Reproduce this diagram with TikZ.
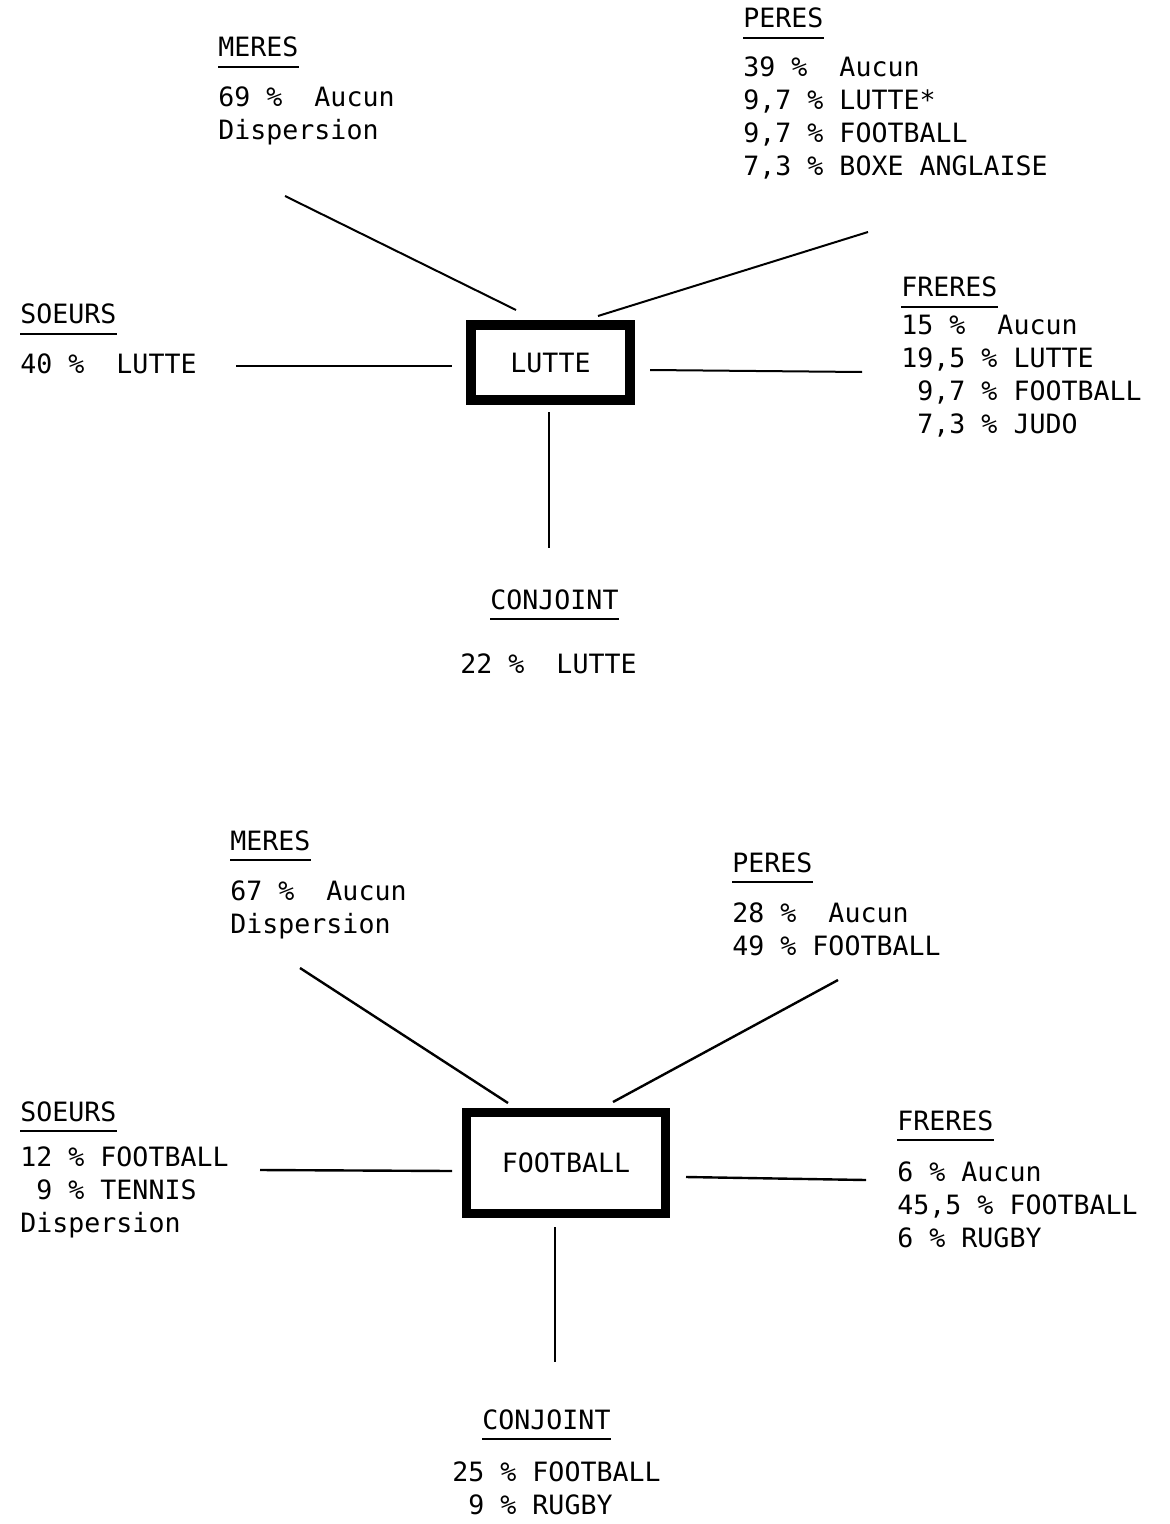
\documentclass[tikz,border=0pt]{standalone}
\usepackage{fontspec}
\newfontfamily\machine{DejaVu Sans Mono}
\usetikzlibrary{calc}

\begin{document}
\begin{tikzpicture}[x=0.5pt,y=-0.5pt,
  rubrique/.style={anchor=base west,inner sep=0pt,font=\machine\fontsize{13.3}{16.5}\selectfont},
  donnees/.style={anchor=base west,inner sep=0pt,align=left,font=\machine\fontsize{13.3}{16.5}\selectfont},
  souligne/.style={line width=0.8pt},
  trait/.style={line width=1pt},
  sport/.style={draw,inner sep=0pt,font=\machine\fontsize{13.3}{16.5}\selectfont}]
\useasboundingbox (0,0) rectangle (1169,1524);
% ---- LUTTE
\coordinate (A1) at (285,196);
\coordinate (A2) at (516,310);
\coordinate (B1) at (868,232);
\coordinate (B2) at (598,316);
\coordinate (C1) at (236,366);
\coordinate (C2) at (452,366);
\coordinate (D1) at (650,370);
\coordinate (D2) at (862,372);
\coordinate (E1) at (549,412);
\coordinate (E2) at (549,548);
\node[sport,line width=5pt,minimum width=79.5pt,minimum height=37.5pt] (lutte) at (550.5,362.5) {LUTTE};
\draw[trait] (A1)--(A2);
\draw[trait] (B1)--(B2);
\draw[trait] (C1)--(C2);
\draw[trait] (D1)--(D2);
\draw[trait] (E1)--(E2);
% (donnees: base = derniere ligne)
\node[rubrique] (lm) at (218,57) {MERES};
\node[donnees] (lmd) at (218,140) {69 \%~~Aucun\\Dispersion};
\node[rubrique] (lp) at (743,28) {PERES};
\node[donnees] (lpd) at (743,176) {39 \%~~Aucun\\9,7 \% LUTTE*\\9,7 \% FOOTBALL\\7,3 \% BOXE ANGLAISE};
\node[rubrique] (ls) at (20,324) {SOEURS};
\node[donnees] (lsd) at (20,373) {40 \%~~LUTTE};
\node[rubrique] (lf) at (901,297) {FRERES};
\node[donnees] (lfd) at (901,433) {15 \%~~Aucun\\19,5 \% LUTTE\\\hphantom{1}9,7 \% FOOTBALL\\\hphantom{1}7,3 \% JUDO};
\node[rubrique] (lc) at (490,609) {CONJOINT};
\node[donnees] (lcd) at (460,673) {22 \%~~LUTTE};
% ---- FOOTBALL
\coordinate (F1) at (300,968);
\coordinate (F2) at (508,1103);
\coordinate (G1) at (838,980);
\coordinate (G2) at (613,1102);
\coordinate (H1) at (260,1170);
\coordinate (H2) at (452,1171);
\coordinate (I1) at (686,1177);
\coordinate (I2) at (866,1180);
\coordinate (J1) at (555,1227);
\coordinate (J2) at (555,1362);
\node[sport,line width=4.5pt,minimum width=99.5pt,minimum height=50.5pt] (foot) at (566,1163) {FOOTBALL};
\draw[trait,line width=1.2pt] (F1)--(F2);
\draw[trait,line width=1.2pt] (G1)--(G2);
\draw[trait,line width=1.2pt] (H1)--(H2);
\draw[trait,line width=1.2pt] (I1)--(I2);
\draw[trait,line width=1.2pt] (J1)--(J2);
\node[rubrique] (fm) at (230,850) {MERES};
\node[donnees] (fmd) at (230,933) {67 \%~~Aucun\\Dispersion};
\node[rubrique] (fp) at (732,872) {PERES};
\node[donnees] (fpd) at (732,955) {28 \%~~Aucun\\49 \% FOOTBALL};
\node[rubrique] (fs) at (20,1121) {SOEURS};
\node[donnees] (fsd) at (20,1232) {12 \% FOOTBALL\\\hphantom{1}9 \% TENNIS\\Dispersion};
\node[rubrique] (ff) at (897,1130) {FRERES};
\node[donnees] (ffd) at (897,1247) {6 \% Aucun\\45,5 \% FOOTBALL\\6 \% RUGBY};
\node[rubrique] (fc) at (482,1429) {CONJOINT};
\node[donnees] (fcd) at (452,1514) {25 \% FOOTBALL\\\hphantom{2}9 \% RUGBY};
% soulignes
\foreach \t in {lm,lp,ls,lf,lc,fm,fp,fs,ff,fc}
  \draw[souligne] ([yshift=-5pt]\t.base west)--([yshift=-5pt]\t.base east);
\end{tikzpicture}
\end{document}
